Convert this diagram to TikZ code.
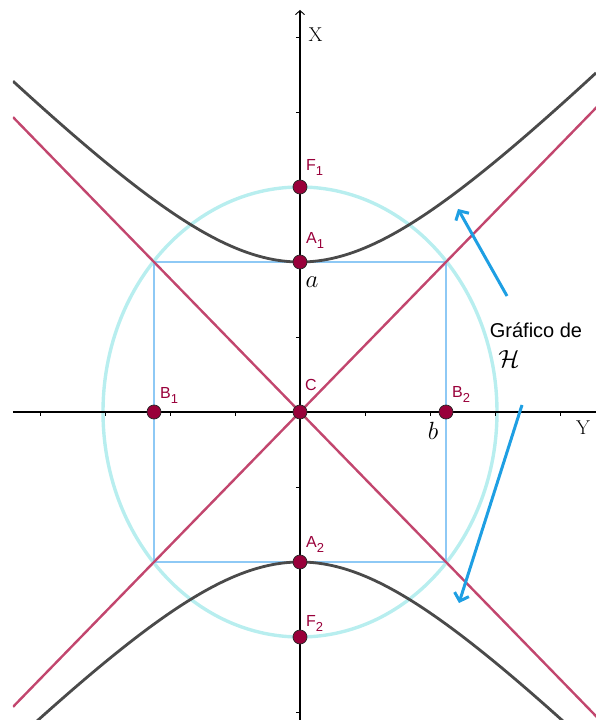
\documentclass[tikz,border=0pt]{standalone}
\usepackage{fontspec}
\newfontfamily\geofont{Liberation Sans}
\usetikzlibrary{arrows.meta}
\definecolor{puntorojo}{HTML}{99003A}
\definecolor{asintrojo}{HTML}{C2466E}
\definecolor{hipgris}{HTML}{4A4A4A}
\definecolor{circcian}{HTML}{B8EEEF}
\definecolor{rectazul}{HTML}{8EC9F5}
\definecolor{flechazul}{HTML}{1E9FE3}
\newcommand{\subi}[1]{\raisebox{-5pt}{\fontsize{13}{13}\selectfont #1}}
\begin{document}
\begin{tikzpicture}[x=1pt,y=1pt,
 punto/.style={circle,fill=puntorojo,draw=black!85,line width=0.7pt,inner sep=0pt,minimum size=14pt},
 etiq/.style={anchor=base west,inner sep=0pt,text=puntorojo,font=\geofont\fontsize{16}{16}\selectfont},
 flecha/.style={flechazul,line width=3pt,-{Straight Barb[length=7pt,width=15pt]}}]
 \useasboundingbox (-300,-308) rectangle (296,412);

 \begin{scope}
 \clip (-287,-308) rectangle (296,412);
 \draw [circcian, line width=3.4pt] (0,0) ellipse [x radius=197pt, y radius=225pt];
 \draw [rectazul, line width=2.8pt] (-146,-150) rectangle (146,150);
 \draw [domain=-287:296, samples=150, hipgris, line width=2.8pt] plot (\x,{150*sqrt(1+(\x/146)^2)});
 \draw [domain=-287:300, samples=150, hipgris, line width=2.8pt] plot (\x,{-150*sqrt(1+(\x/146)^2)});
 \draw [domain=-287:300, asintrojo, line width=2.4pt] plot (\x,{150/146*\x});
 \draw [domain=-287:300, asintrojo, line width=2.4pt] plot (\x,{-150/146*\x});
 \end{scope}

 % ejes
 \draw [line width=1.1pt, -{Straight Barb[length=4pt,width=9pt,line width=0.9pt]}] (0,-308) -- (0,402);
 \draw [line width=1.1pt] (-287,0) -- (296,0);
 \foreach \k in {-4,...,5} \draw [line width=0.9pt] (-4,75*\k) -- (0,75*\k);
 \foreach \k in {-4,...,4} \draw [line width=0.9pt] (65*\k,0) -- (65*\k,-4);
 \node (ejeX) [anchor=west, font=\fontsize{20}{20}\selectfont] at (5,377) {X};
 \node (ejeY) [font=\fontsize{20}{20}\selectfont] at (283,-16) {Y};

 % puntos
 \node (F1) [punto] at (0,225) {};
 \node (A1) [punto] at (0,150) {};
 \node (C) [punto] at (0,0) {};
 \node (B1) [punto] at (-146,0) {};
 \node (B2) [punto] at (146,0) {};
 \node (A2) [punto] at (0,-150) {};
 \node (F2) [punto] at (0,-225) {};
 \node (lF1) [etiq] at ([shift={(6,16)}]F1.center) {F\subi{1}};
 \node (lA1) [etiq] at ([shift={(6,18)}]A1.center) {A\subi{1}};
 \node (lC) [etiq] at ([shift={(5,22)}]C.center) {C};
 \node (lB1) [etiq] at ([shift={(6,13)}]B1.center) {B\subi{1}};
 \node (lB2) [etiq] at ([shift={(6,14)}]B2.center) {B\subi{2}};
 \node (lA2) [etiq] at ([shift={(6,15)}]A2.center) {A\subi{2}};
 \node (lF2) [etiq] at ([shift={(6,11)}]F2.center) {F\subi{2}};
 \node (la) [font=\fontsize{24}{24}\selectfont] at (12,130) {$a$};
 \node (lb) [font=\fontsize{24}{24}\selectfont] at (133,-19) {$b$};

 % texto y flechas
 \node (graf) [font=\geofont\fontsize{20}{20}\selectfont] at (236,82) {Gráfico de};
 \node (hip) [font=\fontsize{26}{26}\selectfont] at (209,53) {$\mathcal{H}$};
 \coordinate (t1) at (207,116);
 \coordinate (h1) at (158,203);
 \coordinate (t2) at (222,7);
 \coordinate (h2) at (159,-191);
 \draw [flecha] (t1) -- (h1);
 \draw [flecha] (t2) -- (h2);
\end{tikzpicture}
\end{document}
